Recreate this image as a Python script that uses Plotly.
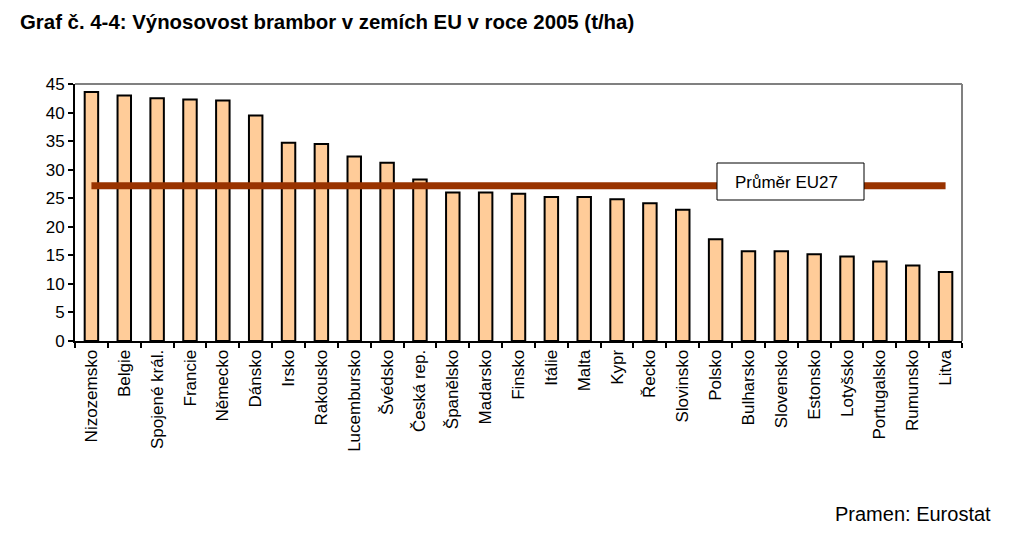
import plotly.graph_objects as go

countries = ["Nizozemsko", "Belgie", "Spojené král.", "Francie", "Německo", "Dánsko",
             "Irsko", "Rakousko", "Lucembursko", "Švédsko", "Česká rep.", "Španělsko",
             "Madarsko", "Finsko", "Itálie", "Malta", "Kypr", "Řecko", "Slovinsko",
             "Polsko", "Bulharsko", "Slovensko", "Estonsko", "Lotyšsko", "Portugalsko",
             "Rumunsko", "Litva"]
yields = [43.6, 43.0, 42.5, 42.3, 42.1, 39.5, 34.7, 34.5, 32.3, 31.2, 28.3, 26.0,
          26.0, 25.8, 25.2, 25.2, 24.8, 24.1, 23.0, 17.8, 15.7, 15.7, 15.2, 14.8,
          13.9, 13.2, 12.1]
eu27_avg = 27.2
y_ticks = [0, 5, 10, 15, 20, 25, 30, 35, 40, 45]

FONT = "Arial, Liberation Sans, sans-serif"

fig = go.Figure()
fig.add_trace(go.Bar(
    x=countries, y=yields, width=0.41,
    marker=dict(color="#FFCC99", line=dict(color="black", width=2)),
    showlegend=False,
))
fig.add_trace(go.Scatter(
    x=countries, y=[eu27_avg] * len(countries), mode="lines",
    line=dict(color="#993300", width=7), showlegend=False,
))

# plot area is 887 x 257 px; page body adds 8px offset
PW, PH = 887, 257

# Excel-like label box for the average line (covers the line)
fig.add_shape(type="rect", xref="paper", yref="paper",
              x0=(709 - 67) / PW, x1=(856 - 67) / PW,
              y0=1 - (192 - 76) / PH, y1=1 - (155 - 76) / PH,
              fillcolor="white", line=dict(color="black", width=1), layer="above")
fig.add_annotation(
    text="Průměr EU27", xref="paper", yref="paper",
    x=(725 - 67) / PW, y=1 - (174 - 76) / PH, xanchor="left", yanchor="middle",
    showarrow=False, font=dict(family=FONT, size=17, color="black"),
)

# gray plot frame on top and right
fig.add_shape(type="line", xref="paper", yref="paper", x0=0, x1=1, y0=1, y1=1,
              line=dict(color="#808080", width=2))
fig.add_shape(type="line", xref="paper", yref="paper", x0=1, x1=1, y0=0, y1=1,
              line=dict(color="#808080", width=2))

fig.update_layout(
    width=1010, height=524,
    margin=dict(l=67, r=56, t=76, b=191),
    plot_bgcolor="white", paper_bgcolor="white",
    font=dict(family=FONT, size=17, color="black"),
)
fig.update_xaxes(
    showline=True, linecolor="black", linewidth=2,
    ticks="outside", tickson="boundaries", ticklen=5, tickcolor="black", tickwidth=2,
    tickangle=-90, tickfont=dict(size=17), showgrid=False,
)
fig.update_yaxes(
    range=[0, 45], tickvals=y_ticks, showgrid=False,
    showline=True, linecolor="black", linewidth=2,
    ticks="outside", ticklen=5, tickcolor="black", tickwidth=2,
    tickfont=dict(size=17), zeroline=False,
)

fig.add_annotation(
    text="<b>Graf č. 4-4: Výnosovost brambor v zemích EU v roce 2005 (t/ha)</b>",
    xref="paper", yref="paper", x=(10 - 67) / PW, y=1 + (76 - 14) / PH,
    xanchor="left", yanchor="middle", showarrow=False,
    font=dict(family="Liberation Sans Narrow, Arial Narrow, " + FONT, size=20.4, color="black"),
)
fig.add_annotation(
    text="Pramen: Eurostat",
    xref="paper", yref="paper", x=(985 - 67) / PW, y=-(506 - 333) / PH,
    xanchor="right", yanchor="middle", showarrow=False,
    font=dict(family=FONT, size=20, color="black"),
)

fig.write_html("out.html")
